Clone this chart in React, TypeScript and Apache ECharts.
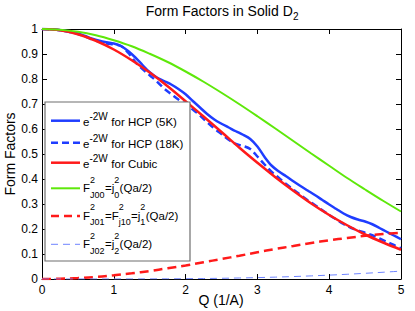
import React, { useEffect, useRef } from 'react';
import * as echarts from 'echarts';

// ---- data ----
const Q_FINE = [
  0, 0.1, 0.2, 0.3, 0.4, 0.5, 0.6, 0.7, 0.8, 0.9,
  1.0, 1.1, 1.2, 1.3, 1.4, 1.5, 1.6, 1.7, 1.8, 1.9,
  2.0, 2.1, 2.2, 2.3, 2.4, 2.5, 2.6, 2.7, 2.8, 2.9,
  3.0, 3.1, 3.2, 3.3, 3.4, 3.5, 3.6, 3.7, 3.8, 3.9,
  4.0, 4.1, 4.2, 4.3, 4.4, 4.5, 4.6, 4.7, 4.8, 4.9, 5.0,
];
const HCP_5K = [
  1.0, 0.999, 0.997, 0.993, 0.988, 0.982, 0.972, 0.961, 0.953, 0.947,
  0.942, 0.932, 0.912, 0.886, 0.856, 0.827, 0.806, 0.792, 0.778, 0.760,
  0.739, 0.712, 0.686, 0.660, 0.638, 0.621, 0.606, 0.591, 0.577, 0.560,
  0.530, 0.488, 0.453, 0.430, 0.411, 0.391, 0.372, 0.354, 0.336, 0.317,
  0.298, 0.280, 0.262, 0.248, 0.238, 0.230, 0.219, 0.204, 0.189, 0.174, 0.159,
];
const HCP_18K = [
  1.0, 0.999, 0.997, 0.993, 0.987, 0.980, 0.970, 0.958, 0.949, 0.942,
  0.938, 0.932, 0.905, 0.868, 0.840, 0.815, 0.790, 0.762, 0.740, 0.718,
  0.698, 0.678, 0.654, 0.627, 0.602, 0.580, 0.557, 0.540, 0.532, 0.520,
  0.490, 0.458, 0.428, 0.404, 0.380, 0.358, 0.336, 0.315, 0.296, 0.276,
  0.256, 0.238, 0.220, 0.205, 0.194, 0.185, 0.175, 0.162, 0.149, 0.136, 0.123,
];
const Q_COARSE = [
  0, 0.25, 0.5, 0.75, 1.0, 1.25, 1.5, 1.75, 2.0, 2.25, 2.5,
  2.75, 3.0, 3.25, 3.5, 3.75, 4.0, 4.25, 4.5, 4.75, 5.0,
];
const CUBIC = [
  1.0, 0.995, 0.979, 0.953, 0.918, 0.875, 0.826, 0.771, 0.711, 0.650, 0.588,
  0.525, 0.465, 0.407, 0.353, 0.302, 0.256, 0.215, 0.178, 0.146, 0.117,
];
const J0_SQ = [
  1.0, 0.997, 0.989, 0.975, 0.955, 0.931, 0.901, 0.868, 0.830, 0.789, 0.745,
  0.699, 0.651, 0.602, 0.552, 0.502, 0.453, 0.404, 0.358, 0.313, 0.270,
];
const J1_SQ = [
  0, 0.001, 0.004, 0.008, 0.015, 0.023, 0.032, 0.043, 0.054, 0.067, 0.080,
  0.093, 0.107, 0.120, 0.132, 0.144, 0.155, 0.164, 0.173, 0.180, 0.185,
];
const J2_SQ = [
  0, 0, 0, 0, 0.0001, 0.0002, 0.0004, 0.0007, 0.0012, 0.0019, 0.0029,
  0.0041, 0.0056, 0.0075, 0.0098, 0.0125, 0.0155, 0.0189, 0.0228, 0.0270, 0.0315,
];

const SERIES_NAMES = [
  'e^-2W for HCP (5K)',
  'e^-2W for HCP (18K)',
  'e^-2W for Cubic',
  'F2 J00=j0^2(Qa/2)',
  'F2 J01=F2 j10=j1^2(Qa/2)',
  'F2 J02=j2^2(Qa/2)',
];

const TITLE_MAIN = 'Form Factors in Solid D';
const TITLE_SUB = '2';
const X_NAME = 'Q (1/A)';
const Y_NAME = 'Form Factors';

// ---- styling ----
const FONT = '"Liberation Sans", Arial, Helvetica, sans-serif';
const BLUE = '#1f3dff';
const RED = '#ff1a1a';
const GREEN = '#5ee80a';
const LIGHT_BLUE = '#6f84ff';

const CW: Record<string, number> = {
  ' ': 278, '(': 333, ')': 333, '-': 333, '/': 278, '=': 584,
  '0': 556, '1': 556, '2': 556, '5': 556, '8': 556,
  A: 667, C: 722, D: 722, F: 611, H: 722, J: 500, K: 667, P: 667, Q: 778, S: 667, W: 944,
  a: 556, b: 556, c: 500, d: 556, e: 556, f: 278, i: 222, j: 222, l: 222, m: 833,
  n: 556, o: 556, r: 333, s: 500, t: 278, u: 556,
};
function tw(s: string, size: number) {
  let w = 0;
  for (const c of s) w += CW[c] ?? 556;
  return (w * size) / 1000;
}

type Piece = { t?: string; sup?: string; sub?: string; fs?: number };
type Entry = {
  color: string; width: number; dash?: number[];
  lineY: number; textY: number; supDy: number; pieces: Piece[];
};

const MAIN_FS = 11.5;
const SMALL_FS = 9;

const LEGEND: Entry[] = [
  { color: BLUE, width: 2.5, lineY: 120.7, textY: 122.3, supDy: -6, pieces: [{ t: 'e' }, { sup: '-2W', fs: 10 }, { t: ' for HCP (5K)' }] },
  { color: BLUE, width: 2.5, dash: [7, 4], lineY: 142.7, textY: 144.3, supDy: -6, pieces: [{ t: 'e' }, { sup: '-2W', fs: 10 }, { t: ' for HCP (18K)' }] },
  { color: RED, width: 2.5, lineY: 162.7, textY: 164.3, supDy: -6, pieces: [{ t: 'e' }, { sup: '-2W', fs: 10 }, { t: ' for Cubic' }] },
  { color: GREEN, width: 2, lineY: 188.3, textY: 188, supDy: -8.5, pieces: [{ t: 'F' }, { sup: '2', sub: 'J00' }, { t: '=j' }, { sup: '2', sub: '0' }, { t: '(Qa/2)' }] },
  { color: RED, width: 2.5, dash: [8, 5], lineY: 216, textY: 215.8, supDy: -8.5, pieces: [{ t: 'F' }, { sup: '2', sub: 'J01' }, { t: '=F' }, { sup: '2', sub: 'j10' }, { t: '=j' }, { sup: '2', sub: '1' }, { t: '(Qa/2)' }] },
  { color: LIGHT_BLUE, width: 1, dash: [7, 5], lineY: 244.3, textY: 244, supDy: -8.5, pieces: [{ t: 'F' }, { sup: '2', sub: 'J02' }, { t: '=j' }, { sup: '2', sub: '2' }, { t: '(Qa/2)' }] },
];

function txt(text: string, x: number, y: number, size: number, align = 'left', z = 101, rotation = 0) {
  return {
    type: 'text', x, y, z, rotation, silent: true,
    style: {
      text, fontSize: size, fontFamily: FONT, fill: '#000',
      align, textAlign: align, verticalAlign: 'middle', textVerticalAlign: 'middle',
    },
  };
}

function buildLegend() {
  const els: any[] = [];
  els.push({
    type: 'rect', z: 100, silent: true,
    shape: { x: 45, y: 102, width: 145, height: 159 },
    style: { fill: '#ffffff', stroke: '#6e6e6e', lineWidth: 1.2 },
  });
  LEGEND.forEach((e) => {
    els.push({
      type: 'line', z: 101, silent: true,
      shape: { x1: 51, y1: e.lineY, x2: 80, y2: e.lineY },
      style: { stroke: e.color, lineWidth: e.width, lineDash: e.dash || null },
    });
    let x = 83;
    e.pieces.forEach((p) => {
      if (p.t !== undefined) {
        els.push(txt(p.t, x, e.textY, MAIN_FS));
        x += tw(p.t, MAIN_FS);
      } else {
        const fs = p.fs ?? SMALL_FS;
        let w = 0;
        if (p.sup) {
          els.push(txt(p.sup, x, e.textY + e.supDy, fs));
          w = Math.max(w, tw(p.sup, fs));
        }
        if (p.sub) {
          els.push(txt(p.sub, x, e.textY + 6.5, fs));
          w = Math.max(w, tw(p.sub, fs));
        }
        x += w + 0.4;
      }
    });
  });
  return els;
}

function buildTitleAndNames() {
  const mainW = tw(TITLE_MAIN, 14);
  const subW = tw(TITLE_SUB, 10);
  const x0 = 222 - (mainW + subW) / 2;
  return [
    txt(TITLE_MAIN, x0, 10.8, 14, 'left', 10),
    txt(TITLE_SUB, x0 + mainW + 0.3, 16.5, 10, 'left', 10),
    txt(X_NAME, 221, 300, 14, 'center', 10),
    txt(Y_NAME, 10, 154, 14, 'center', 10, Math.PI / 2),
  ];
}

function pairs(xs: number[], ys: number[]) {
  return xs.map((x, i) => [x, ys[i]]);
}

export default function App() {
  const ref = useRef<HTMLDivElement>(null);
  useEffect(() => {
    document.body.style.margin = '0';
    if (!ref.current) return;
    const chart = echarts.init(ref.current, undefined, { renderer: 'svg' });
    const axisLine = { show: true, onZero: false, lineStyle: { color: '#000', width: 1 } };
    const tick = { show: true, inside: true, length: 5, lineStyle: { color: '#000', width: 1 } };
    const label = { color: '#000', fontSize: 12, fontFamily: FONT };
    const lineSeries = (name: string, data: number[][], color: string, width: number, dash?: number[]) => ({
      name, type: 'line', data, symbol: 'none', showSymbol: false, smooth: 0.35,
      clip: true, silent: true,
      lineStyle: { color, width, type: dash ? dash : 'solid' },
      itemStyle: { color },
    });
    chart.setOption({
      animation: false,
      backgroundColor: '#ffffff',
      grid: { left: 42, right: 14, top: 29, bottom: 32, containLabel: false, outerBoundsMode: 'none' },
      xAxis: [
        {
          type: 'value', min: 0, max: 5, interval: 1, position: 'bottom',
          axisLine, axisTick: tick, splitLine: { show: false },
          axisLabel: { ...label, margin: 5 },
        },
        {
          type: 'value', min: 0, max: 5, interval: 1, position: 'top',
          axisLine, axisTick: tick, splitLine: { show: false }, axisLabel: { show: false },
        },
      ],
      yAxis: [
        {
          type: 'value', min: 0, max: 1, interval: 0.1, position: 'left',
          axisLine, axisTick: tick, splitLine: { show: false },
          axisLabel: { ...label, margin: 4 },
        },
        {
          type: 'value', min: 0, max: 1, interval: 0.1, position: 'right',
          axisLine, axisTick: tick, splitLine: { show: false }, axisLabel: { show: false },
        },
      ],
      series: [
        lineSeries(SERIES_NAMES[0], pairs(Q_FINE, HCP_5K), BLUE, 2.5),
        lineSeries(SERIES_NAMES[1], pairs(Q_FINE, HCP_18K), BLUE, 2.5, [7, 4]),
        lineSeries(SERIES_NAMES[2], pairs(Q_COARSE, CUBIC), RED, 2.5),
        lineSeries(SERIES_NAMES[3], pairs(Q_COARSE, J0_SQ), GREEN, 2),
        lineSeries(SERIES_NAMES[4], pairs(Q_COARSE, J1_SQ), RED, 2.5, [9, 5]),
        lineSeries(SERIES_NAMES[5], pairs(Q_COARSE, J2_SQ), LIGHT_BLUE, 1, [7, 5]),
      ],
      graphic: [...buildTitleAndNames(), ...buildLegend()],
    });
    return () => chart.dispose();
  }, []);
  return <div ref={ref} style={{ width: 415, height: 311 }} />;
}
